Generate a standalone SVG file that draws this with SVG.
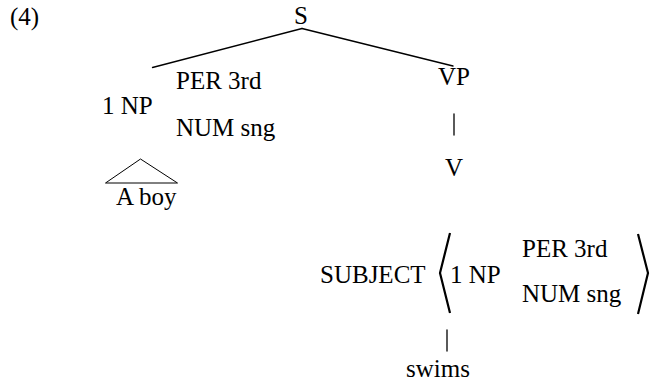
<svg xmlns="http://www.w3.org/2000/svg" width="650" height="383" viewBox="0 0 650 383" font-family="Liberation Serif, Times New Roman, serif">
<style>
text{font-family:'Liberation Serif','Times New Roman',serif;font-size:25px;fill:#000}
.m{text-anchor:middle}
.e{stroke:#000;stroke-width:1.3;fill:none;stroke-linecap:round}
.b{stroke:#000;stroke-width:2.2;fill:none;stroke-linejoin:miter}
</style>
<rect width="650" height="383" fill="#fff"/>
<text x="10" y="25">(4)</text>
<g id="connectors">
<line class="e" x1="302" y1="28.5" x2="152.5" y2="67.5"/>
<line class="e" x1="302" y1="28.5" x2="453" y2="66"/>
<line class="e" x1="454" y1="114" x2="454" y2="135" stroke-width="1"/>
<line class="e" x1="447" y1="330" x2="447" y2="351" stroke-width="1"/>
</g>
<g id="S"><text class="m" x="301" y="24">S</text></g>
<g id="NP">
<text x="102" y="114">1 NP</text>
<text x="176" y="89">PER 3rd</text>
<text x="176" y="136">NUM sng</text>
</g>
<g id="NP-yield">
<polygon points="140.5,159 105.5,183 177.5,183" fill="none" stroke="#000" stroke-width="1"/>
<text x="116" y="205">A boy</text>
</g>
<g id="VP"><text class="m" x="454" y="85">VP</text></g>
<g id="V"><text class="m" x="454" y="175.5">V</text></g>
<g id="V-features">
<text x="320" y="283">SUBJECT</text>
<polyline class="b" points="450,233 440,273 450,313"/>
<text x="450" y="282.5">1 NP</text>
<text x="522" y="257">PER 3rd</text>
<text x="522" y="302">NUM sng</text>
<polyline class="b" points="638,234 648,273 638,314"/>
</g>
<g id="swims"><text x="406" y="377">swims</text></g>
</svg>
